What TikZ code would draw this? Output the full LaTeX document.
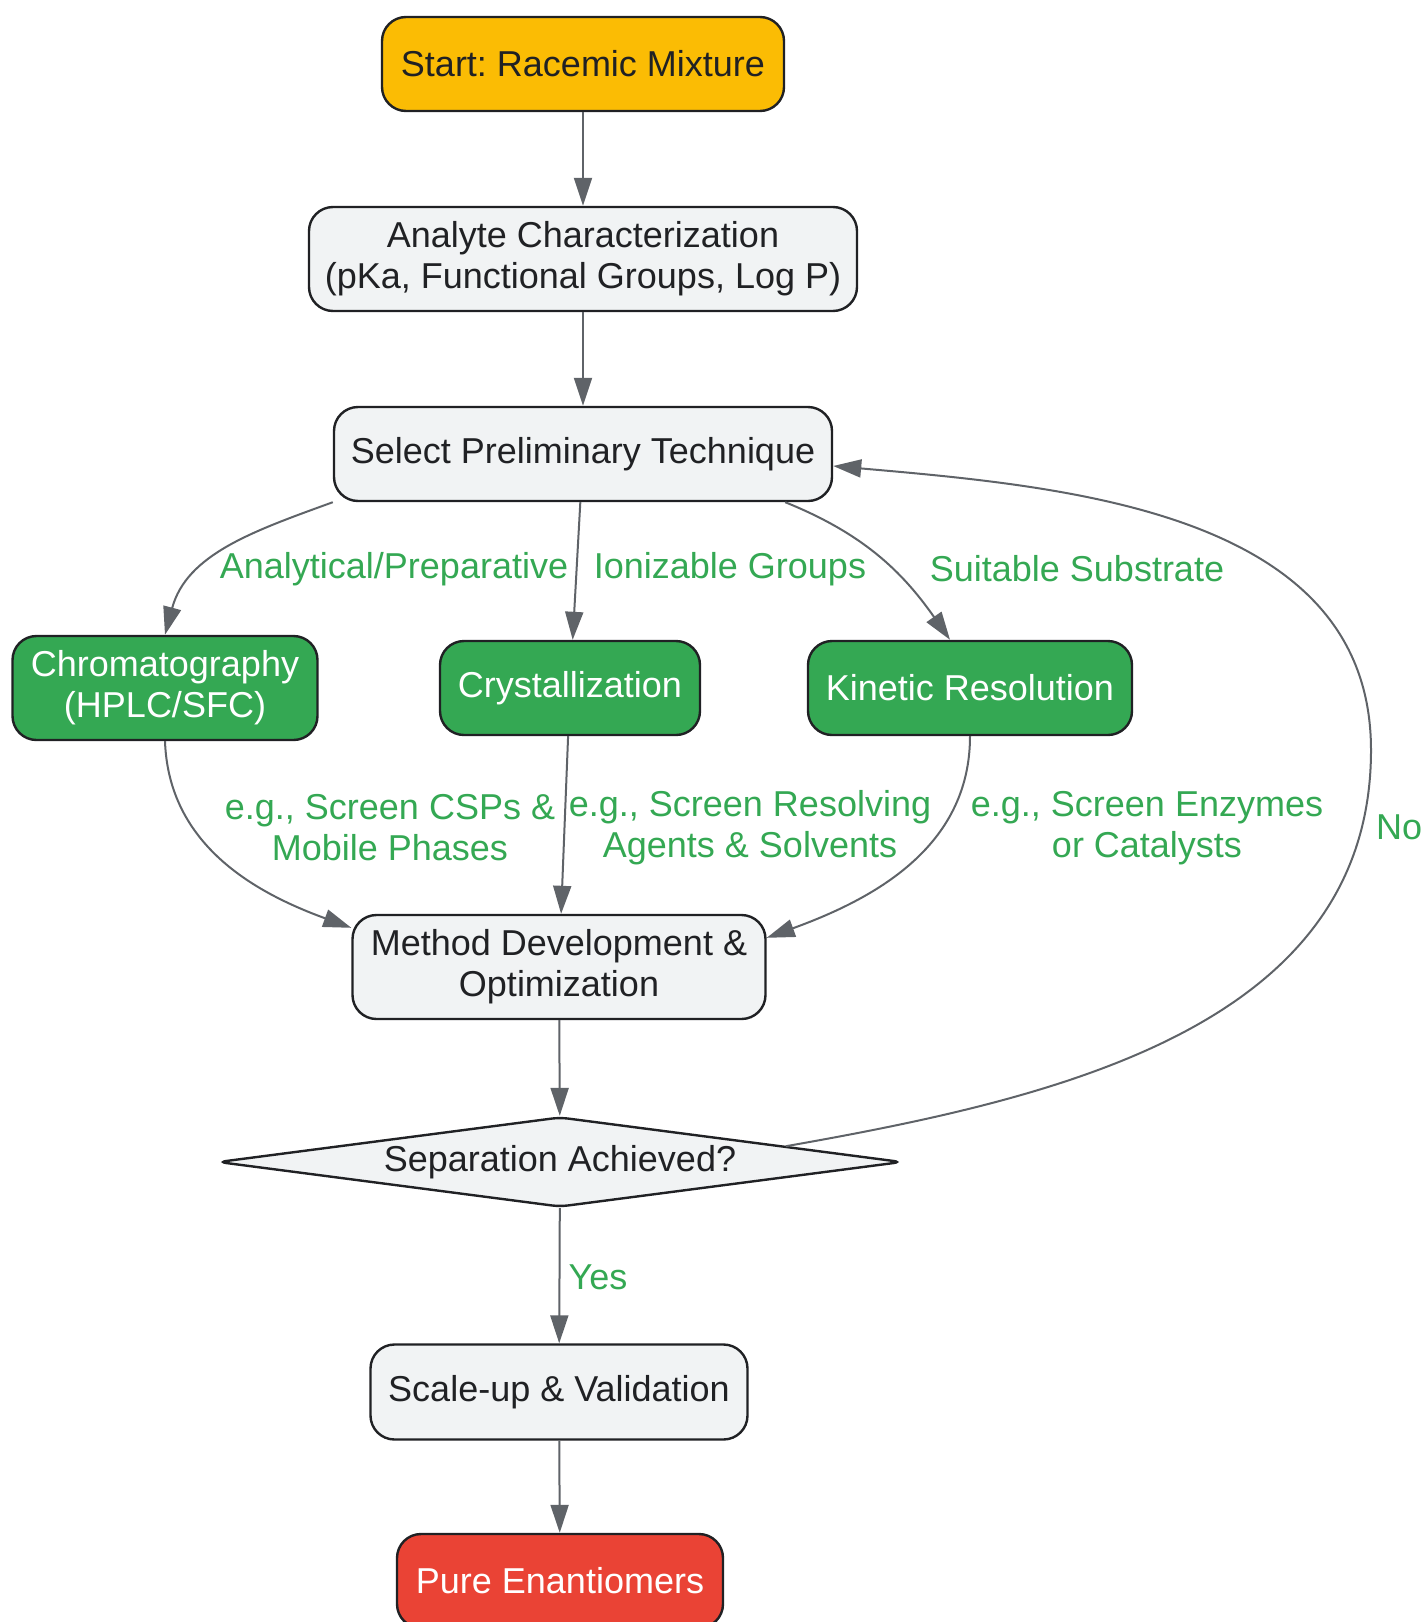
\documentclass[tikz,border=0pt]{standalone}
\usepackage{fontspec}
\setmainfont{Liberation Sans}
\usepackage{xcolor}
\usepackage{tikz}
\usetikzlibrary{arrows.meta}
\usetikzlibrary{shapes.geometric}
\frenchspacing

\definecolor{ink}{HTML}{202124}
\definecolor{lineg}{HTML}{5F6368}
\definecolor{labg}{HTML}{34A853}
\definecolor{boxy}{HTML}{FBBC04}
\definecolor{boxgray}{HTML}{F1F3F4}
\definecolor{boxgreen}{HTML}{34A853}
\definecolor{boxred}{HTML}{EA4335}

\begin{document}
\begin{tikzpicture}[x=0.5pt,y=0.5pt,
    every node/.style={font=\fontsize{18pt}{20.5pt}\selectfont,text=ink,inner sep=0pt},
    box/.style={draw=ink,line width=1.2pt,rounded corners=12pt,align=center},
    edge/.style={draw=lineg,line width=1pt,-{Triangle[length=14pt,width=9pt]}},
    elabel/.style={text=labg,align=center}]
        \useasboundingbox (0,0) rectangle (1426,-1622); %画布大小
        % 节点
        \node[box,fill=boxy,minimum width=201pt,minimum height=47pt] (start) at (583,-64) {Start: Racemic Mixture};
        \node[box,fill=boxgray,minimum width=274pt,minimum height=52pt] (ana) at (583,-259) {Analyte Characterization\\(pKa, Functional Groups, Log P)};
        \node[box,fill=boxgray,minimum width=249pt,minimum height=47pt] (sel) at (583,-454) {Select Preliminary Technique};
        \node[box,fill=boxgreen,text=white,minimum width=152.5pt,minimum height=52pt] (chrom) at (165,-688) {Chromatography\\(HPLC/SFC)};
        \node[box,fill=boxgreen,text=white,minimum width=130pt,minimum height=47pt] (cryst) at (570,-688) {Crystallization};
        \node[box,fill=boxgreen,text=white,minimum width=162pt,minimum height=47pt] (kin) at (970,-688) {Kinetic Resolution};
        \node[box,fill=boxgray,minimum width=206.5pt,minimum height=52pt] (meth) at (559,-967) {Method Development \&\\Optimization};
        \node[diamond,aspect=7.6,draw=ink,line width=1.2pt,rounded corners=4pt,fill=boxgray,minimum width=342pt,minimum height=45pt] (dec) at (560,-1162) {Separation Achieved?};
        \node[box,fill=boxgray,minimum width=188.5pt,minimum height=47.5pt] (scale) at (559,-1392) {Scale-up \& Validation};
        \node[box,fill=boxred,text=white,minimum width=163pt,minimum height=47pt] (pure) at (560,-1581) {Pure Enantiomers};
        \coordinate (nopt) at (1371,-750); %回路最右点
        % 连线
        \foreach \a/\b in {start/ana,ana/sel,sel/cryst,cryst/meth,meth/dec,dec/scale,scale/pure}{
            \draw[edge] (\a) -- (\b);
        }
        \draw[edge] (sel.south west) to[out=200,in=75] (chrom.north);
        \draw[edge] ([xshift=-24pt]sel.south east) to[out=-22,in=125] ([xshift=-10pt]kin.north);
        \draw[edge] (chrom.south) to[out=-88,in=160] ([yshift=-7pt]meth.north west);
        \draw[edge] (kin.south) to[out=-90,in=20] ([yshift=-12pt]meth.north east);
        \draw[edge] (dec.4) to[out=10,in=-90] (nopt) to[out=90,in=-5] ([yshift=-6pt]sel.east);
        % 边上的文字
        \node[elabel] (l1) at (394,-569) {Analytical/Preparative};
        \node[elabel] (l2) at (730,-569) {Ionizable Groups};
        \node[elabel] (l3) at (1077,-569) {Suitable Substrate};
        \node[elabel] (l4) at (390,-828) {e.g., Screen CSPs \&\\Mobile Phases};
        \node[elabel] (l5) at (750,-828) {e.g., Screen Resolving\\Agents \& Solvents};
        \node[elabel] (l6) at (1147,-828) {e.g., Screen Enzymes\\or Catalysts};
        \node[elabel] (lno) at (1399,-827) {No};
        \node[elabel] (lyes) at (598,-1277) {Yes};
    \end{tikzpicture}
\end{document}
